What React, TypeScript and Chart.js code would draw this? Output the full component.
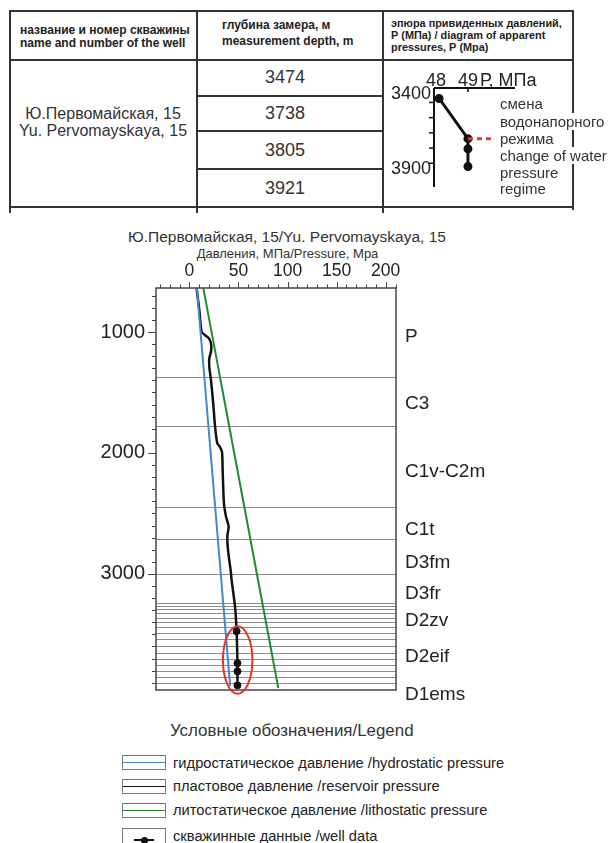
import React, { useEffect, useRef } from "react";
import { Chart, registerables } from "chart.js";
Chart.register(...registerables);

const FONT = '"Liberation Sans", Arial, sans-serif';

// ---------- DATA ----------
const wellNameRu = "Ю.Первомайская, 15";
const wellNameEn = "Yu. Pervomayskaya, 15";
const wellDepths = [3474, 3738, 3805, 3921];
const wellPressures = [48.1, 49, 49, 49];

const hydroDepths = [640, 3925];
const hydroPressures = [7.7, 41.5];
const lithoDepths = [640, 3945];
const lithoPressures = [14.3, 90.6];
const reservoirDepths = [640, 818, 997, 1025, 1052, 1107, 1163, 1218, 1287, 1397, 1590, 1777, 1920, 1942, 1989, 2140, 2416, 2526, 2609, 2692, 2829, 2967, 3050, 3270, 3474, 3738, 3805, 3921, 3945];
const reservoirPressures = [7.4, 10.1, 12.5, 15.9, 20, 22.3, 22, 20.3, 20.3, 22, 24.3, 26.1, 28.4, 30.5, 33.2, 33.9, 35.2, 37.3, 40, 38.6, 39.7, 42, 43, 46.5, 48.1, 49, 49, 49, 49.2];

const boundaryDepths = [1370, 1780, 2450, 2710, 3000, 3243, 3263, 3290, 3326, 3362, 3400, 3437, 3486, 3541, 3596, 3651, 3701, 3751, 3800, 3850, 3900];
const formationNames = ["P", "C3", "C1v-C2m", "C1t", "D3fm", "D3fr", "D2zv", "D2eif", "D1ems"];
const formationLabelDepths = [1041, 1595, 2157, 2637, 2910, 3166, 3389, 3687, 4001];

const xTickLabels = [0, 50, 100, 150, 200];
const xTickMarks = [-30, -20, -10, 0, 10, 20, 30, 40, 50, 60, 70, 80, 90, 100, 110, 120, 130, 140, 150, 160, 170, 180, 190, 200, 210];
const yTickLabels = [1000, 2000, 3000];
const yTickMarks = [700, 800, 900, 1000, 1100, 1200, 1300, 1400, 1500, 1600, 1700, 1800, 1900, 2000, 2100, 2200, 2300, 2400, 2500, 2600, 2700, 2800, 2900, 3000, 3100, 3200, 3300, 3400, 3500, 3600, 3700, 3800, 3900];

// highlighted zone (ellipse) in data units
const highlightCenter = { pressure: 49.2, depth: 3712 };
const highlightRadius = { pressure: 15, depth: 280 };

// inset
const insetXLabels = [48, 49];
const insetYLabels = [3400, 3900];
const insetYTicks = [3500, 3600, 3700, 3800, 3900];
const regimeLineDepths = [3738, 3738];
const regimeLinePressures = [49, 49.84];

const tableDepths = ["3474", "3738", "3805", "3921"];

const BLUE = "#3f86d8";
const GREEN = "#1f8c2e";
const BLACK = "#111";
const RED = "#e3352b";

// ---------- main chart ----------
const mainPlugin = {
  id: "mainDecor",
  beforeDatasetsDraw(chart: any) {
    const { ctx, chartArea: a, scales } = chart;
    const y = scales.y;
    ctx.save();
    ctx.strokeStyle = "#8c8c8c";
    ctx.lineWidth = 1;
    boundaryDepths.forEach((d) => {
      const py = Math.round(y.getPixelForValue(d)) + 0.5;
      ctx.beginPath();
      ctx.moveTo(a.left, py);
      ctx.lineTo(a.right, py);
      ctx.stroke();
    });
    ctx.restore();
  },
  afterDatasetsDraw(chart: any) {
    const { ctx, chartArea: a, scales } = chart;
    const x = scales.x;
    const y = scales.y;
    ctx.save();
    ctx.strokeStyle = "#444";
    ctx.lineWidth = 1.5;
    ctx.strokeRect(a.left, a.top, a.right - a.left, a.bottom - a.top);
    ctx.lineWidth = 1;
    xTickMarks.forEach((v) => {
      const px = Math.round(x.getPixelForValue(v)) + 0.5;
      const len = v % 50 === 0 ? 6 : 3.5;
      ctx.beginPath();
      ctx.moveTo(px, a.top);
      ctx.lineTo(px, a.top - len);
      ctx.stroke();
    });
    yTickMarks.forEach((v) => {
      const py = Math.round(y.getPixelForValue(v)) + 0.5;
      const len = v % 1000 === 0 ? 8 : 4;
      ctx.beginPath();
      ctx.moveTo(a.left - len, py);
      ctx.lineTo(a.left, py);
      ctx.stroke();
    });
    const cx = x.getPixelForValue(highlightCenter.pressure);
    const cy = y.getPixelForValue(highlightCenter.depth);
    const rx = Math.abs(x.getPixelForValue(highlightCenter.pressure + highlightRadius.pressure) - cx);
    const ry = Math.abs(y.getPixelForValue(highlightCenter.depth + highlightRadius.depth) - cy);
    ctx.strokeStyle = RED;
    ctx.lineWidth = 2;
    ctx.beginPath();
    ctx.ellipse(cx, cy, rx, ry, 0, 0, Math.PI * 2);
    ctx.stroke();
    ctx.fillStyle = "#222";
    ctx.font = `19px ${FONT}`;
    ctx.textAlign = "left";
    ctx.textBaseline = "middle";
    formationNames.forEach((n, i) => {
      ctx.fillText(n, a.right + 9, y.getPixelForValue(formationLabelDepths[i]));
    });
    ctx.restore();
  },
};

function MainChart() {
  const ref = useRef<HTMLCanvasElement | null>(null);
  useEffect(() => {
    if (!ref.current) return;
    const chart = new Chart(ref.current, {
      type: "scatter",
      data: {
        datasets: [
          {
            label: "hydro",
            data: hydroDepths.map((d, i) => ({ x: hydroPressures[i], y: d })),
            showLine: true,
            borderColor: BLUE,
            borderWidth: 2,
            pointRadius: 0,
          },
          {
            label: "litho",
            data: lithoDepths.map((d, i) => ({ x: lithoPressures[i], y: d })),
            showLine: true,
            borderColor: GREEN,
            borderWidth: 2,
            pointRadius: 0,
          },
          {
            label: "reservoir",
            data: reservoirDepths.map((d, i) => ({ x: reservoirPressures[i], y: d })),
            showLine: true,
            borderColor: BLACK,
            borderWidth: 2.5,
            pointRadius: 0,
            tension: 0.25,
          },
          {
            label: "well",
            data: wellDepths.map((d, i) => ({ x: wellPressures[i], y: d })),
            showLine: false,
            pointRadius: 3.5,
            backgroundColor: BLACK,
            borderColor: BLACK,
          },
        ],
      } as any,
      options: {
        responsive: false,
        animation: false,
        events: [],
        layout: { padding: { left: 0, right: 212, top: 0, bottom: 30 } },
        plugins: { legend: { display: false }, tooltip: { enabled: false } },
        scales: {
          x: {
            type: "linear",
            position: "top",
            min: -34,
            max: 210.5,
            grid: { display: false, drawTicks: false },
            border: { display: false },
            ticks: { font: { family: FONT, size: 17.5 }, color: "#222", padding: 6, autoSkip: false, maxRotation: 0, callback: (v: any) => String(v) },
            afterBuildTicks: (s: any) => {
              s.ticks = xTickLabels.map((v) => ({ value: v }));
            },
            afterFit: (s: any) => {
              s.height = 68;
            },
          },
          y: {
            type: "linear",
            position: "left",
            reverse: true,
            min: 636,
            max: 3960,
            grid: { display: false, drawTicks: false },
            border: { display: false },
            ticks: { font: { family: FONT, size: 20 }, color: "#222", padding: 11, autoSkip: false, callback: (v: any) => String(v) },
            afterBuildTicks: (s: any) => {
              s.ticks = yTickLabels.map((v) => ({ value: v }));
            },
            afterFit: (s: any) => {
              s.width = 156;
            },
          },
        },
      } as any,
      plugins: [mainPlugin],
    });
    return () => chart.destroy();
  }, []);
  return <canvas ref={ref} width={608} height={500} style={{ position: "absolute", left: 0, top: 220, width: 608, height: 500 }} />;
}

// ---------- inset chart ----------
const insetPlugin = {
  id: "insetDecor",
  afterDatasetsDraw(chart: any) {
    const { ctx, chartArea: a, scales } = chart;
    const x = scales.x;
    const y = scales.y;
    ctx.save();
    ctx.strokeStyle = "#111";
    ctx.lineWidth = 2;
    ctx.beginPath();
    ctx.moveTo(a.left, a.top);
    ctx.lineTo(a.right, a.top);
    ctx.moveTo(a.left, a.top);
    ctx.lineTo(a.left, a.bottom);
    ctx.stroke();
    ctx.lineWidth = 1.5;
    insetXLabels.forEach((v) => {
      const px = x.getPixelForValue(v);
      if (px > a.left + 3) {
        ctx.beginPath();
        ctx.moveTo(px, a.top);
        ctx.lineTo(px, a.top + 4);
        ctx.stroke();
      }
    });
    insetYTicks.forEach((v) => {
      const py = y.getPixelForValue(v);
      ctx.beginPath();
      ctx.moveTo(a.left - 5, py);
      ctx.lineTo(a.left, py);
      ctx.stroke();
    });
    ctx.fillStyle = "#222";
    ctx.font = `18px ${FONT}`;
    ctx.textAlign = "center";
    ctx.textBaseline = "alphabetic";
    insetXLabels.forEach((v) => ctx.fillText(String(v), x.getPixelForValue(v), a.top - 2));
    ctx.textAlign = "left";
    ctx.fillText("Р, МПа", x.getPixelForValue(49) + 12, a.top - 2);
    ctx.textAlign = "right";
    ctx.textBaseline = "middle";
    insetYLabels.forEach((v) => ctx.fillText(String(v), a.left - 3, Math.max(y.getPixelForValue(v), a.top) + 6));
    ctx.restore();
  },
};

function InsetChart() {
  const ref = useRef<HTMLCanvasElement | null>(null);
  useEffect(() => {
    if (!ref.current) return;
    const chart = new Chart(ref.current, {
      type: "scatter",
      data: {
        datasets: [
          {
            label: "regime",
            data: regimeLineDepths.map((d, i) => ({ x: regimeLinePressures[i], y: d })),
            showLine: true,
            borderColor: RED,
            borderWidth: 3,
            borderDash: [5, 4],
            pointRadius: 0,
          },
          {
            label: "well",
            data: wellDepths.map((d, i) => ({ x: wellPressures[i], y: d })),
            showLine: true,
            borderColor: BLACK,
            backgroundColor: BLACK,
            borderWidth: 3,
            pointRadius: 3,
          },
        ],
      } as any,
      options: {
        responsive: false,
        animation: false,
        events: [],
        layout: { padding: { left: 51, right: 58, top: 26, bottom: 20 } },
        plugins: { legend: { display: false }, tooltip: { enabled: false } },
        scales: {
          x: { type: "linear", display: false, min: 47.94, max: 50.47 },
          y: { type: "linear", display: false, reverse: true, min: 3405, max: 4056 },
        },
      } as any,
      plugins: [insetPlugin],
    });
    return () => chart.destroy();
  }, []);
  return <canvas ref={ref} width={190} height={145} style={{ position: "absolute", left: 383, top: 62, width: 190, height: 145 }} />;
}

// ---------- helpers ----------
function HL({ x1, x2, y, w = 2, c = "#333" }: any) {
  return <div style={{ position: "absolute", left: x1, top: y - w / 2, width: x2 - x1, height: w, background: c }} />;
}
function VL({ x, y1, y2, w = 2, c = "#333" }: any) {
  return <div style={{ position: "absolute", left: x - w / 2, top: y1, width: w, height: y2 - y1, background: c }} />;
}
function T({ x, y, size, lh, children, bold, align = "left", color = "#222", bg }: any) {
  const style: any = {
    position: "absolute",
    top: y - lh / 2,
    fontSize: size,
    lineHeight: lh + "px",
    fontWeight: bold ? "bold" : "normal",
    color,
    whiteSpace: "nowrap",
    fontFamily: FONT,
  };
  if (align === "center") {
    style.left = x - 250;
    style.width = 500;
    style.textAlign = "center";
  } else {
    style.left = x;
  }
  if (bg) style.background = bg;
  return <div style={style}>{children}</div>;
}

function LegendBox({ y, color, marker }: any) {
  return (
    <div style={{ position: "absolute", left: 122, top: y, width: 42, height: marker ? 22 : 13, border: "1px solid #777" }}>
      {!marker && <div style={{ position: "absolute", left: 0, right: 0, top: 6, height: 1, background: color }} />}
      {marker && (
        <>
          <div style={{ position: "absolute", left: 11, width: 20, top: 10, height: 1.5, background: BLACK }} />
          <div style={{ position: "absolute", left: 17.5, top: 7.5, width: 7, height: 7, borderRadius: 4, background: BLACK }} />
        </>
      )}
    </div>
  );
}

export default function App() {
  return (
    <div style={{ position: "absolute", left: 0, top: 0, width: 608, height: 843, overflow: "hidden", background: "#fff", fontFamily: FONT }}>
      {/* table */}
      <HL x1={10} x2={574} y={11} />
      <HL x1={10} x2={574} y={60} />
      <HL x1={10} x2={574} y={207} />
      <HL x1={197} x2={383} y={96} />
      <HL x1={197} x2={383} y={131} />
      <HL x1={197} x2={383} y={169} />
      <VL x={10} y1={10} y2={213} />
      <VL x={197} y1={10} y2={213} />
      <VL x={383} y1={10} y2={213} />
      <VL x={573} y1={10} y2={210} />

      <T x={20} y={30} size={12} lh={13} bold>название и номер скважины</T>
      <T x={20} y={43} size={12} lh={13} bold>name and number of the well</T>
      <T x={222} y={25} size={12} lh={13} bold>глубина замера, м</T>
      <T x={222} y={41} size={12} lh={13} bold>measurement depth, m</T>
      <T x={391} y={23} size={10.9} lh={12} bold>эпюра привиденных давлений,</T>
      <T x={391} y={35} size={10.9} lh={12} bold>Р (МПа) / diagram of apparent</T>
      <T x={391} y={47} size={10.9} lh={12} bold>pressures, Р (Мpa)</T>

      <T x={103} y={114} size={16} lh={18} align="center" color="#333">{wellNameRu}</T>
      <T x={103} y={131} size={16} lh={18} align="center" color="#333">{wellNameEn}</T>
      {tableDepths.map((d, i) => (
        <T key={d} x={285} y={[77, 113, 150, 188][i]} size={18} lh={20} align="center" color="#333">{d}</T>
      ))}

      <InsetChart />
      <T x={500} y={103} size={15} lh={17} color="#333" bg="#fff">смена</T>
      <T x={500} y={121} size={15} lh={17} color="#333" bg="#fff">водонапорного</T>
      <T x={500} y={138} size={15} lh={17} color="#333">режима</T>
      <T x={500} y={155} size={15} lh={17} color="#333" bg="#fff">change of water</T>
      <T x={500} y={172} size={15} lh={17} color="#333">pressure</T>
      <T x={500} y={188} size={15} lh={17} color="#333">regime</T>

      {/* main chart */}
      <T x={287} y={237} size={15.5} lh={18} align="center" color="#333">{wellNameRu + "/" + wellNameEn}</T>
      <T x={287.5} y={253} size={13} lh={15} align="center" color="#333">Давления, МПа/Pressure, Мpa</T>
      <MainChart />

      {/* legend */}
      <T x={170} y={730} size={16.9} lh={19} color="#333">Условные обозначения/Legend</T>
      <LegendBox y={755} color={BLUE} />
      <LegendBox y={779} color={BLACK} />
      <LegendBox y={803} color={GREEN} />
      <LegendBox y={828} marker />
      <T x={173} y={763} size={14.7} lh={16} color="#222">гидростатическое давление /hydrostatic pressure</T>
      <T x={173} y={786} size={14.7} lh={16} color="#222">пластовое давление /reservoir pressure</T>
      <T x={173} y={810} size={14.7} lh={16} color="#222">литостатическое давление /lithostatic pressure</T>
      <T x={173} y={836} size={14.7} lh={16} color="#222">скважинные данные /well data</T>
    </div>
  );
}
